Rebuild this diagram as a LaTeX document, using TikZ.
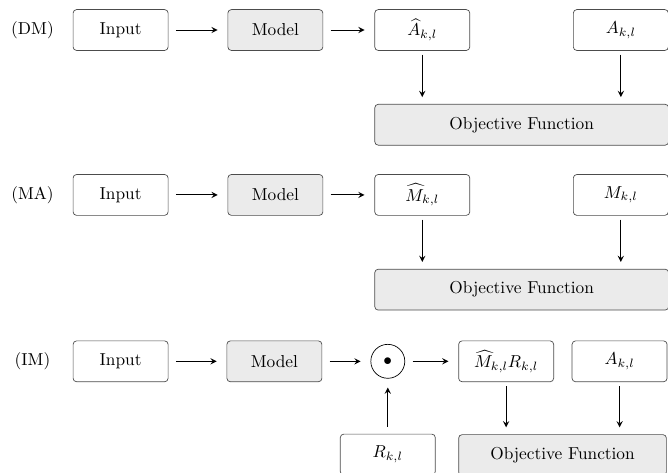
\documentclass[tikz,border=0pt]{standalone}
\usepackage{amsmath}
\usepackage{tikz}
\usetikzlibrary{shapes,arrows,positioning}

\begin{document}
\begin{tikzpicture}[
        node distance=1.2cm,
        box/.style={rectangle, draw=black!70, rounded corners=2pt, fill=white,
        minimum width=1.93cm, minimum height=0.83cm, align=center},
        grbox/.style={box, fill=gray!16},
        prod/.style={circle, draw, minimum size=0.69cm, inner sep=0pt},
        arrow/.style={semithick,->,>=stealth, shorten <=0.15cm, shorten >=0.2cm},
%        arrow/.style={thick,->,>=stealth},
        tag/.style={anchor=center}
    ]
        \useasboundingbox (0,0) rectangle (13.57,-9.608);

% Row (DM)
        \node[tag] (dm) at (0.66,-0.61) {(DM)};
        \node[box] (in1) at (2.45,-0.61) {Input};
        \node[grbox, right=1.2cm of in1] (mod1) {Model};
        \node[box, right=1.04cm of mod1] (ahat1) {$\widehat{A}_{k,l}$};
        \node[box, right=2.09cm of ahat1] (a1) {$A_{k,l}$};
        \node[grbox, below right=1.08cm and 0cm of ahat1.south west,
        minimum width=5.97cm] (obj1) {Objective Function};

% Row (MA)
        \node[tag] (ma) at (0.66,-3.96) {(MA)};
        \node[box] (in2) at (2.45,-3.96) {Input};
        \node[grbox, right=1.2cm of in2] (mod2) {Model};
        \node[box, right=1.04cm of mod2] (mhat2) {$\widehat{M}_{k,l}$};
        \node[box, right=2.09cm of mhat2] (m2) {$M_{k,l}$};
        \node[grbox, below right=1.08cm and 0cm of mhat2.south west,
        minimum width=5.97cm] (obj2) {Objective Function};

% Row (IM)
        \node[tag] (im) at (0.66,-7.34) {(IM)};
        \node[box] (in3) at (2.45,-7.34) {Input};
        \node[grbox, right=1.18cm of in3] (mod3) {Model};
        \node[prod, right=0.98cm of mod3] (dot3) {$\bullet$};
        \node[box, right=1.08cm of dot3] (mr3) {$\widehat{M}_{k,l}R_{k,l}$};
        \node[box, right=0.36cm of mr3] (a3) {$A_{k,l}$};
        \node[box, below=1.12cm of dot3] (r3) {$R_{k,l}$};
        \node[grbox, below right=1.06cm and 0cm of mr3.south west,
        minimum width=4.22cm] (obj3) {Objective Function};

% Arrows
        \draw[arrow] (in1) -- (mod1);
        \draw[arrow] (mod1) -- (ahat1);
        \draw[arrow, shorten <=0.08cm, shorten >=0.14cm] (ahat1.south) -- (ahat1.south |- obj1.north);
        \draw[arrow, shorten <=0.08cm, shorten >=0.14cm] (a1.south) -- (a1.south |- obj1.north);

        \draw[arrow] (in2) -- (mod2);
        \draw[arrow] (mod2) -- (mhat2);
        \draw[arrow, shorten <=0.08cm, shorten >=0.14cm] (mhat2.south) -- (mhat2.south |- obj2.north);
        \draw[arrow, shorten <=0.08cm, shorten >=0.14cm] (m2.south) -- (m2.south |- obj2.north);

        \draw[arrow] (in3) -- (mod3);
        \draw[arrow] (mod3) -- (dot3);
        \draw[arrow] (dot3) -- (mr3);
        \draw[arrow, shorten <=0.14cm, shorten >=0.18cm] (r3) -- (dot3);
        \draw[arrow, shorten <=0.08cm, shorten >=0.14cm] (mr3.south) -- (mr3.south |- obj3.north);
        \draw[arrow, shorten <=0.08cm, shorten >=0.14cm] (a3.south) -- (a3.south |- obj3.north);

    \end{tikzpicture}
\end{document}
